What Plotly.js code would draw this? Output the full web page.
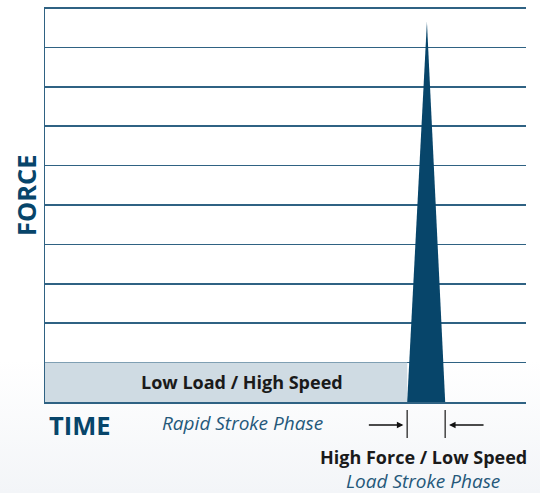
<!DOCTYPE html>
<html>
<head>
<meta charset="utf-8">
<script src="https://cdn.plot.ly/plotly-3.0.1.min.js"></script>
<style>
html,body{margin:0;padding:0;width:540px;height:493px;overflow:hidden;
background:linear-gradient(to bottom,#ffffff 0px,#ffffff 360px,#f3f5f8 493px);}
#wrap{position:relative;width:540px;height:493px;}
#chart{width:540px;height:493px;}
#topline{position:absolute;left:45px;top:7px;width:481px;height:2px;background:#2f6283;z-index:10;}
</style>
</head>
<body>
<div id="wrap"><div id="chart"></div><div id="topline"></div></div>
<script>
// Time axis (0-100) and force axis (0-10 grid units)
var rapidTime = [0, 75.3];
var rapidForce = [1, 1];
var spikeTime = [75.3, 79.4, 83.2];
var spikeForce = [0, 9.65, 0];
var phaseLabels = ["Low Load / High Speed", "Rapid Stroke Phase", "High Force / Low Speed", "Load Stroke Phase"];
var axisLabels = ["FORCE", "TIME"];

var navy = "#07456a";
var textBlue = "#24587a";
var gridC = "#2f6283";
var F = "'Open Sans', sans-serif";

var traces = [
  {x: rapidTime, y: rapidForce, type: "scatter", mode: "lines", fill: "tozeroy",
   fillcolor: "#cfdbe3", line: {width: 0, color: "#cfdbe3"}, hoverinfo: "skip"},
  {x: spikeTime, y: spikeForce, type: "scatter", mode: "lines", fill: "toself",
   fillcolor: navy, line: {width: 0, color: navy}, hoverinfo: "skip"}
];

function py(px) { return (402 - px) / 394; }
var leftLabelX = 41, rightLabelX = 78.6;
var layout = {
  width: 540, height: 493,
  margin: {l: 45, r: 14, t: 8, b: 91},
  paper_bgcolor: "rgba(0,0,0,0)",
  plot_bgcolor: "rgba(0,0,0,0)",
  showlegend: false,
  font: {family: F},
  xaxis: {range: [0, 100], showgrid: false, zeroline: false, showticklabels: false,
          ticks: "", showline: true, mirror: true, linecolor: gridC, linewidth: 1.5, fixedrange: true},
  yaxis: {range: [0, 10], dtick: 1, showgrid: true, gridcolor: gridC, gridwidth: 1.5,
          zeroline: false, showticklabels: false, ticks: "", showline: true,
          linecolor: gridC, linewidth: 1.5, fixedrange: true},
  shapes: [
    {type: "line", xref: "paper", yref: "paper", x0: 0, x1: 1, y0: 1, y1: 1, layer: "above",
     line: {color: gridC, width: 2}},
    {type: "line", xref: "x", yref: "paper", x0: spikeTime[0], x1: spikeTime[0],
     y0: py(410), y1: py(438), line: {color: "#444", width: 1.5}},
    {type: "line", xref: "x", yref: "paper", x0: spikeTime[2], x1: spikeTime[2],
     y0: py(410), y1: py(438), line: {color: "#444", width: 1.5}}
  ],
  annotations: [
    {xref: "x", yref: "y", x: leftLabelX, y: 0.5, text: "<b>" + phaseLabels[0] + "</b>",
     xanchor: "center", yanchor: "middle",
     showarrow: false, font: {size: 18, color: "#1a1a1a"}},
    {xref: "x", yref: "paper", x: leftLabelX, y: py(423), text: "<i>" + phaseLabels[1] + "</i>",
     xanchor: "center", yanchor: "middle",
     showarrow: false, font: {size: 19, color: textBlue}},
    {xref: "x", yref: "paper", x: rightLabelX, y: py(457), text: "<b>" + phaseLabels[2] + "</b>",
     xanchor: "center", yanchor: "middle",
     showarrow: false, font: {size: 18, color: "#1a1a1a"}},
    {xref: "x", yref: "paper", x: rightLabelX, y: py(481), text: "<i>" + phaseLabels[3] + "</i>",
     xanchor: "center", yanchor: "middle",
     showarrow: false, font: {size: 19, color: textBlue}},
    {xref: "paper", yref: "paper", x: (26 - 45) / 481, y: py(195), text: "<b>" + axisLabels[0] + "</b>", textangle: -90,
     xanchor: "center", yanchor: "middle",
     showarrow: false, font: {size: 25.5, color: navy}},
    {xref: "paper", yref: "paper", x: (80 - 45) / 481, y: py(425), text: "<b>" + axisLabels[1] + "</b>",
     xanchor: "center", yanchor: "middle",
     showarrow: false, font: {size: 25.5, color: navy}},
    {xref: "x", yref: "paper", x: spikeTime[0] - 0.8, y: py(425), ax: -36, ay: 0, text: "",
     showarrow: true, arrowhead: 2, arrowsize: 1, arrowwidth: 1.3, arrowcolor: "#111"},
    {xref: "x", yref: "paper", x: spikeTime[2] + 0.8, y: py(425), ax: 36, ay: 0, text: "",
     showarrow: true, arrowhead: 2, arrowsize: 1, arrowwidth: 1.3, arrowcolor: "#111"}
  ]
};

Plotly.newPlot("chart", traces, layout, {displayModeBar: false, staticPlot: true});
</script>
</body>
</html>
